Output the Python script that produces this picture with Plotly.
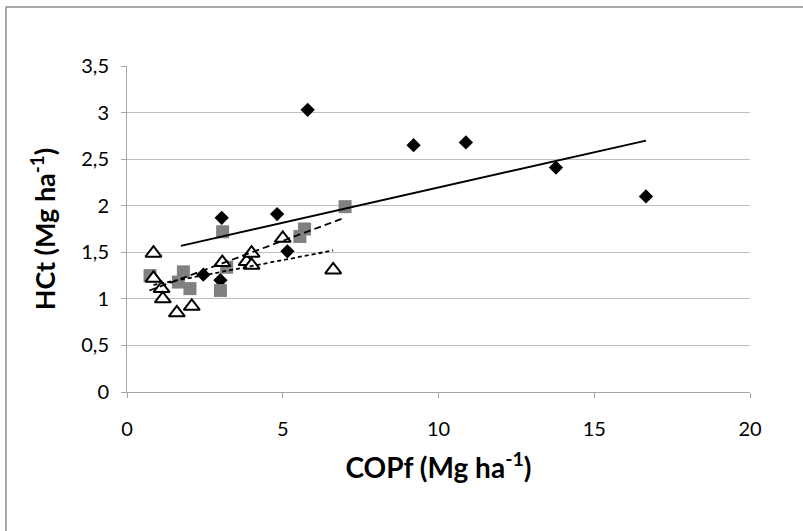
import plotly.graph_objects as go

# Series 1: black diamonds
dia_x = [2.45, 3.0, 3.04, 4.82, 5.15, 5.8, 9.2, 10.88, 13.77, 16.66]
dia_y = [1.26, 1.20, 1.87, 1.91, 1.51, 3.03, 2.65, 2.68, 2.41, 2.10]
# Series 2: grey squares
sq_x = [0.74, 1.65, 1.81, 2.02, 3.0, 3.07, 3.2, 5.55, 5.7, 7.0]
sq_y = [1.25, 1.18, 1.29, 1.11, 1.09, 1.72, 1.34, 1.67, 1.75, 1.99]
# Series 3: open triangles
tri_x = [0.85, 0.85, 1.11, 1.15, 1.6, 2.08, 3.06, 3.84, 4.0, 4.0, 5.0, 6.62]
tri_y = [1.49, 1.22, 1.11, 1.00, 0.85, 0.92, 1.39, 1.40, 1.49, 1.36, 1.65, 1.31]

# Trend lines
trend_dia_x = [1.73, 16.66]
trend_dia_y = [1.57, 2.70]
trend_sq_x = [0.72, 6.9]
trend_sq_y = [1.09, 1.86]
trend_tri_x = [0.85, 6.62]
trend_tri_y = [1.15, 1.52]

y_ticks = [0, 0.5, 1, 1.5, 2, 2.5, 3, 3.5]
y_ticktext = ["0", "0,5", "1", "1,5", "2", "2,5", "3", "3,5"]
x_ticks = [0, 5, 10, 15, 20]

FONT = "Lato"

fig = go.Figure()
fig.add_trace(go.Scatter(x=dia_x, y=dia_y, mode="markers",
                         marker=dict(symbol="diamond", size=11, color="black"),
                         showlegend=False))
fig.add_trace(go.Scatter(x=sq_x, y=sq_y, mode="markers",
                         marker=dict(symbol="square", size=13, color="#808080"),
                         showlegend=False))
fig.add_trace(go.Scatter(x=tri_x, y=tri_y, mode="markers",
                         marker=dict(symbol="triangle-up", size=14, color="white",
                                     line=dict(color="black", width=2)),
                         showlegend=False))
fig.add_trace(go.Scatter(x=trend_dia_x, y=trend_dia_y, mode="lines",
                         line=dict(color="black", width=1.8), showlegend=False))
fig.add_trace(go.Scatter(x=trend_sq_x, y=trend_sq_y, mode="lines",
                         line=dict(color="black", width=1.8, dash="7px,4px"), showlegend=False))
fig.add_trace(go.Scatter(x=trend_tri_x, y=trend_tri_y, mode="lines",
                         line=dict(color="black", width=1.8, dash="4px,3px"), showlegend=False))

W, H = 803, 531
L, R, T, B = 127, 53, 66, 139
pw, ph = W - L - R, H - T - B

def px_x(p):
    return (p - L) / pw

def px_y(p):
    return (H - B - p) / ph

fig.add_shape(type="rect", xref="paper", yref="paper",
              x0=px_x(6), x1=px_x(815), y0=px_y(7), y1=px_y(545),
              line=dict(color="#8c8c8c", width=1.5), fillcolor="rgba(0,0,0,0)", layer="below")

fig.update_layout(
    width=W, height=H,
    margin=dict(l=L, r=R, t=T, b=B),
    paper_bgcolor="white", plot_bgcolor="white",
    font=dict(family=FONT, size=20, color="black"),
    xaxis=dict(range=[0, 20], tickvals=x_ticks, showgrid=False,
               showline=True, linecolor="#a6a6a6", linewidth=1,
               ticks="outside", ticklen=5, tickcolor="#a6a6a6",
               zeroline=False, ticklabelstandoff=14,
               title=dict(text="<b>COPf (Mg ha<sup>-1</sup>)</b>", font=dict(size=28), standoff=19)),
    yaxis=dict(range=[0, 3.5], tickvals=y_ticks, ticktext=y_ticktext,
               showgrid=True, gridcolor="#bfbfbf", gridwidth=1,
               showline=True, linecolor="#a6a6a6", linewidth=1,
               ticks="outside", ticklen=5, tickcolor="#a6a6a6",
               zeroline=False, ticklabelstandoff=8,
               title=dict(text="<b>HCt (Mg ha<sup>-1</sup>)</b>", font=dict(size=27), standoff=17)),
)

fig.write_html("out.html")
